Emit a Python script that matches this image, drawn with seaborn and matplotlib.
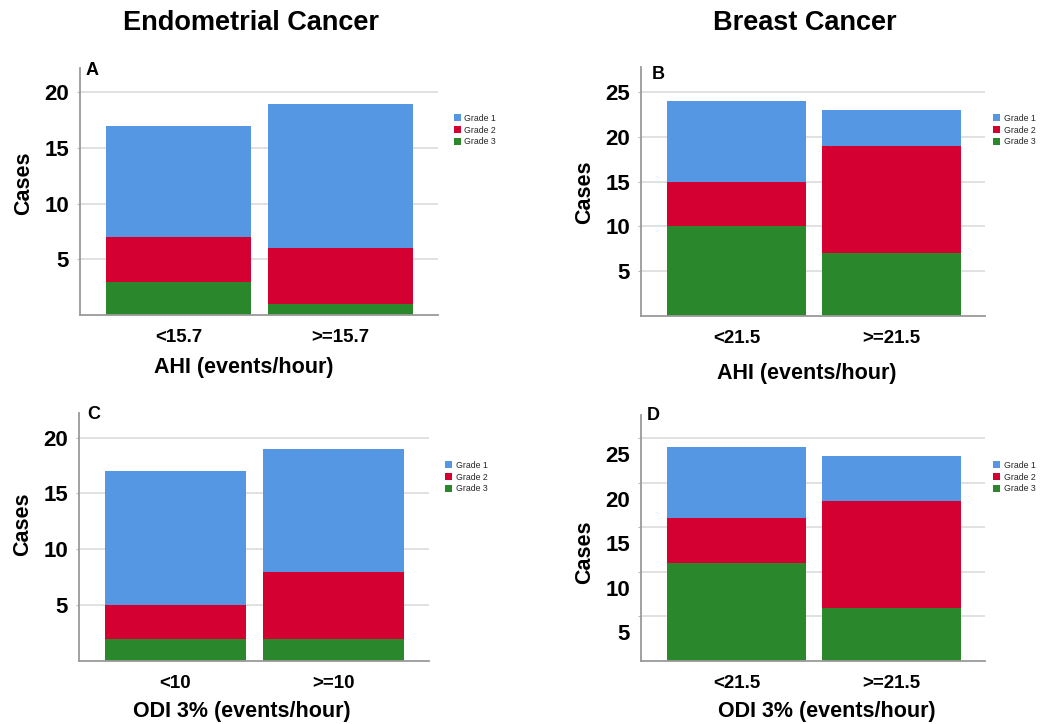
import numpy as np
import pandas as pd
import matplotlib
matplotlib.use("Agg")
import matplotlib.pyplot as plt
import matplotlib.transforms as mtransforms
from matplotlib.patches import Patch
import seaborn as sns

# ---------------- data ----------------
grades = ["Grade 1", "Grade 2", "Grade 3"]

a_categories = ["<15.7", ">=15.7"]
a_grade1 = [10, 13]
a_grade2 = [4, 5]
a_grade3 = [3, 1]

b_categories = ["<21.5", ">=21.5"]
b_grade1 = [9, 4]
b_grade2 = [5, 12]
b_grade3 = [10, 7]

c_categories = ["<10", ">=10"]
c_grade1 = [12, 11]
c_grade2 = [3, 6]
c_grade3 = [2, 2]

d_categories = ["<21.5", ">=21.5"]
d_grade1 = [8, 5]
d_grade2 = [5, 12]
d_grade3 = [11, 6]

column_titles = ["Endometrial Cancer", "Breast Cancer"]
panel_letters = ["A", "B", "C", "D"]
x_labels = ["AHI (events/hour)", "AHI (events/hour)",
            "ODI 3% (events/hour)", "ODI 3% (events/hour)"]
y_label = "Cases"
endo_yticks = [5, 10, 15, 20]
breast_yticks = [5, 10, 15, 20, 25]

# ---------------- style ----------------
colors = {"Grade 1": "#5597E3", "Grade 2": "#D50032", "Grade 3": "#2A872B"}
sns.set_theme(style="white")
plt.rcParams["font.family"] = ["Liberation Sans", "DejaVu Sans"]
plt.rcParams["font.weight"] = "bold"

W, H = 1050, 724
fig = plt.figure(figsize=(W / 100, H / 100), dpi=100)


def fx(x):
    return x / W


def fy(y):
    return 1 - y / H


def make_ax(left, right, top, bottom):
    return fig.add_axes([fx(left), fy(bottom), fx(right) - fx(left), fy(top) - fy(bottom)])


panels = [
    dict(box=(80, 438, 68, 315), xlim=(-0.608, 1.60), ytop=22.2, cats=a_categories,
         g=(a_grade1, a_grade2, a_grade3), yticks=endo_yticks,
         ylab=(24, 183), xlab=(244, 368), letter=(86, 62), leg=(454, 114), yshift=0),
    dict(box=(641, 985, 67, 316), xlim=(-0.616, 1.603), ytop=27.8, cats=b_categories,
         g=(b_grade1, b_grade2, b_grade3), yticks=breast_yticks,
         ylab=(585, 192), xlab=(807, 373), letter=(652, 66), leg=(993, 114), yshift=0),
    dict(box=(79, 429, 413, 661), xlim=(-0.611, 1.604), ytop=22.2, cats=c_categories,
         g=(c_grade1, c_grade2, c_grade3), yticks=endo_yticks,
         ylab=(23, 524), xlab=(242, 712), letter=(87, 406), leg=(445, 461), yshift=0),
    dict(box=(641, 985, 415, 661), xlim=(-0.616, 1.603), ytop=27.6, cats=d_categories,
         g=(d_grade1, d_grade2, d_grade3), yticks=breast_yticks,
         ylab=(585, 552), xlab=(827, 712), letter=(647, 407), leg=(993, 461), yshift=-16),
]

handles = [Patch(facecolor=colors[g], edgecolor="none", label=g) for g in grades]

for i, p in enumerate(panels):
    ax = make_ax(*p["box"])
    g1, g2, g3 = p["g"]
    df = pd.DataFrame({"cat": p["cats"], "Grade 1": g1, "Grade 2": g2, "Grade 3": g3})
    df["stack1"] = df["Grade 1"] + df["Grade 2"] + df["Grade 3"]
    df["stack2"] = df["Grade 2"] + df["Grade 3"]
    df["stack3"] = df["Grade 3"]
    for col, grade in [("stack1", "Grade 1"), ("stack2", "Grade 2"), ("stack3", "Grade 3")]:
        sns.barplot(data=df, x="cat", y=col, order=p["cats"], color=colors[grade],
                    saturation=1, width=0.895, linewidth=0, errorbar=None, ax=ax)
    ax.set_xlim(*p["xlim"])
    ax.set_ylim(0, p["ytop"])
    ax.set_yticks(p["yticks"])
    ax.set_yticklabels([str(t) for t in p["yticks"]])
    ax.set_axisbelow(True)
    ax.yaxis.grid(True, color="#d9d9d9", lw=1.1)
    ax.xaxis.grid(False)
    for s in ["top", "right"]:
        ax.spines[s].set_visible(False)
    for s in ["left", "bottom"]:
        ax.spines[s].set_color("#9a9a9a")
        ax.spines[s].set_linewidth(1.3)
    ax.tick_params(axis="y", labelsize=16, length=2, width=0.8, color="#bbbbbb", pad=6,
                   labelcolor="black", left=True)
    ax.tick_params(axis="x", labelsize=13.5, length=0, pad=10, labelcolor="black")
    for lbl in ax.get_xticklabels() + ax.get_yticklabels():
        lbl.set_fontweight("bold")

    if p["yshift"]:
        off = mtransforms.ScaledTranslation(0, p["yshift"] / 100, fig.dpi_scale_trans)
        for tick in ax.yaxis.get_major_ticks():
            tick.label1.set_transform(tick.label1.get_transform() + off)

    ax.set_ylabel(y_label, fontsize=15.5, fontweight="bold", color="black", va="center")
    ax.yaxis.set_label_coords(fx(p["ylab"][0]), fy(p["ylab"][1]), transform=fig.transFigure)
    ax.set_xlabel(x_labels[i], fontsize=15.5, fontweight="bold", color="black", va="center")
    ax.xaxis.set_label_coords(fx(p["xlab"][0]), fy(p["xlab"][1]), transform=fig.transFigure)

    fig.text(fx(p["letter"][0]), fy(p["letter"][1]), panel_letters[i], fontsize=13,
             fontweight="bold", ha="left", va="top", color="black")

    ax.legend(handles=handles, loc="upper left",
              bbox_to_anchor=(fx(p["leg"][0]), fy(p["leg"][1])),
              bbox_transform=fig.transFigure, frameon=False,
              prop={"size": 6.3, "weight": "normal"},
              handlelength=0.85, handleheight=0.85, handletextpad=0.35,
              labelspacing=0.3, borderpad=0, borderaxespad=0)

fig.text(fx(251), fy(23), column_titles[0], fontsize=19.5, fontweight="bold",
         ha="center", va="center", color="black")
fig.text(fx(805), fy(23), column_titles[1], fontsize=19.5, fontweight="bold",
         ha="center", va="center", color="black")

fig.savefig("out.png", dpi=100, facecolor="white")
